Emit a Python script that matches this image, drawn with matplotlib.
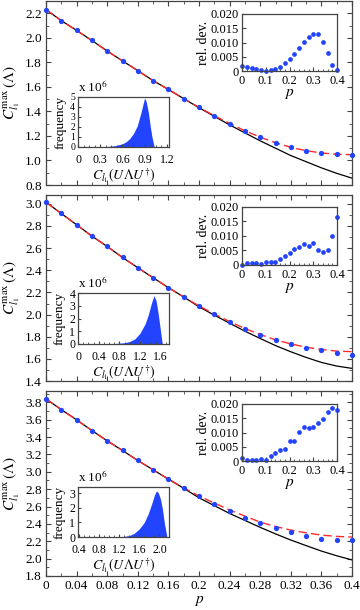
import numpy as np
import matplotlib
matplotlib.use("Agg")
import matplotlib.pyplot as plt
from matplotlib.ticker import MultipleLocator, FuncFormatter

plt.rcParams["font.family"] = ["Liberation Serif", "DejaVu Serif"]
plt.rcParams["mathtext.fontset"] = "stix"

# Daten
p = [0.0, 0.02, 0.04, 0.06, 0.08, 0.10, 0.12, 0.14, 0.16, 0.18, 0.20,
     0.22, 0.24, 0.26, 0.28, 0.30, 0.32, 0.34, 0.36, 0.38, 0.40]

dots1 = [2.23, 2.14, 2.06, 1.978, 1.892, 1.812, 1.732, 1.651, 1.579, 1.504, 1.433,
         1.365, 1.30, 1.24, 1.191, 1.143, 1.106, 1.08, 1.059, 1.05, 1.048]
red1 = [2.23, 2.14, 2.06, 1.978, 1.892, 1.812, 1.732, 1.651, 1.579, 1.504, 1.433,
        1.365, 1.302, 1.242, 1.19, 1.145, 1.107, 1.08, 1.061, 1.051, 1.047]
black1 = [2.23, 2.14, 2.06, 1.978, 1.892, 1.812, 1.732, 1.651, 1.579, 1.504, 1.43,
          1.36, 1.29, 1.225, 1.16, 1.10, 1.04, 0.99, 0.94, 0.895, 0.856]

dots2 = [3.015, 2.913, 2.811, 2.709, 2.615, 2.516, 2.423, 2.333, 2.243, 2.159, 2.078,
         2.003, 1.934, 1.871, 1.82, 1.769, 1.733, 1.70, 1.676, 1.652, 1.637]
red2 = [3.015, 2.913, 2.811, 2.709, 2.615, 2.516, 2.423, 2.333, 2.243, 2.159, 2.078,
        2.005, 1.937, 1.874, 1.82, 1.772, 1.735, 1.705, 1.685, 1.67, 1.665]
black2 = [3.015, 2.913, 2.811, 2.709, 2.615, 2.516, 2.423, 2.333, 2.243, 2.159, 2.07,
          1.995, 1.922, 1.85, 1.784, 1.72, 1.664, 1.613, 1.568, 1.535, 1.514]

dots3 = [3.839, 3.716, 3.598, 3.475, 3.356, 3.245, 3.13, 3.023, 2.915, 2.816, 2.716,
         2.632, 2.544, 2.471, 2.409, 2.352, 2.302, 2.264, 2.23, 2.214, 2.21]
red3 = [3.839, 3.716, 3.598, 3.475, 3.356, 3.245, 3.13, 3.023, 2.915, 2.816, 2.72,
        2.64, 2.56, 2.49, 2.42, 2.37, 2.329, 2.297, 2.271, 2.256, 2.248]
black3 = [3.839, 3.716, 3.598, 3.475, 3.356, 3.245, 3.13, 3.023, 2.915, 2.81, 2.70,
          2.61, 2.52, 2.44, 2.36, 2.285, 2.214, 2.15, 2.087, 2.033, 1.985]

reldev1 = [0.0019, 0.0014, 0.0009, 0.0006, 0.0002, 0.0001, 0.0002, 0.0007, 0.0015, 0.0027, 0.0041,
           0.006, 0.008, 0.0102, 0.0118, 0.0131, 0.0129, 0.0102, 0.0064, 0.0021, 0.0002]
reldev2 = [0.0001, 0.0008, 0.0008, 0.0007, 0.0002, 0.0009, 0.0009, 0.0009, 0.0022, 0.003, 0.0042,
           0.0056, 0.0063, 0.0072, 0.0067, 0.0076, 0.0052, 0.0045, 0.0053, 0.0101, 0.0164]
reldev3 = [0.0009, 0.0005, 0.0005, 0.0004, 0.0008, 0.0002, 0.0018, 0.0027, 0.004, 0.0041, 0.0069,
           0.0069, 0.0101, 0.012, 0.0115, 0.012, 0.0133, 0.0146, 0.0173, 0.0186, 0.0179]

hist1_x = [0.2, 0.3, 0.4, 0.5, 0.6, 0.65, 0.7, 0.75, 0.8, 0.85, 0.88, 0.9, 0.92, 0.95, 0.98, 1.0, 1.03, 1.1]
hist1_y = [0, 0.01, 0.05, 0.13, 0.32, 0.52, 0.85, 1.35, 2.1, 3.4, 4.3, 4.9, 4.6, 3.5, 1.9, 1.0, 0, 0]
hist2_x = [0.3, 0.5, 0.7, 0.9, 1.0, 1.1, 1.2, 1.3, 1.36, 1.42, 1.47, 1.51, 1.55, 1.59, 1.63, 1.7]
hist2_y = [0, 0.01, 0.03, 0.1, 0.2, 0.4, 0.85, 1.6, 2.3, 3.2, 3.8, 3.4, 2.4, 1.2, 0, 0]
hist3_x = [1.0, 1.2, 1.3, 1.4, 1.5, 1.6, 1.7, 1.78, 1.85, 1.9, 1.94, 1.98, 2.02, 2.06, 2.1, 2.15, 2.2]
hist3_y = [0, 0.01, 0.04, 0.1, 0.25, 0.55, 1.0, 1.6, 2.3, 2.85, 3.15, 3.0, 2.6, 1.9, 0.9, 0, 0]

panels = [
    dict(dots=dots1, red=red1, black=black1, ylim=(0.8, 2.3), reldev=reldev1,
         hx=hist1_x, hy=hist1_y, hxlim=(0, 1.23), hylim=(0, 5), hxt=0.3, hyfs=7,
         top=1, bot=185, ri_top=14, ri_bot=71, hi_top=97, hi_bot=147),
    dict(dots=dots2, red=red2, black=black2, ylim=(1.4, 3.08), reldev=reldev2,
         hx=hist2_x, hy=hist2_y, hxlim=(0, 1.76), hylim=(0, 4), hxt=0.4, hyfs=8.5,
         top=195, bot=381, ri_top=207, ri_bot=265, hi_top=293, hi_bot=344),
    dict(dots=dots3, red=red3, black=black3, ylim=(1.8, 3.93), reldev=reldev3,
         hx=hist3_x, hy=hist3_y, hxlim=(0.385, 2.19), hylim=(0, 3.41), hxt=0.4, hyfs=8.5,
         top=391, bot=576, ri_top=404, ri_bot=461, hi_top=487, hi_bot=537),
]

W, H = 360, 610
fig = plt.figure(figsize=(3.6, 6.1), dpi=100)

def box(l, t, r, b):
    return [l / W, 1 - b / H, (r - l) / W, (b - t) / H]

def fmt_g(v, pos):
    v = round(v, 3)
    if v == 0:
        return "0"
    return f"{v:g}"

frame = "#444444"
blue = "#2244ff"

for i, pn in enumerate(panels):
    ax = fig.add_axes(box(46, pn["top"], 352, pn["bot"]))
    ax.plot(p, pn["black"], color="black", lw=0.9, zorder=2)
    ax.plot(p, pn["red"], color="#ff2a2a", lw=1.0, ls=(0, (6, 3)), zorder=3)
    ax.plot(p, pn["dots"], "o", color=blue, ms=3.8, mec="none", zorder=4, clip_on=False)
    ax.set_xlim(0, 0.4)
    ax.set_ylim(*pn["ylim"])
    ax.xaxis.set_major_locator(MultipleLocator(0.04))
    ax.xaxis.set_minor_locator(MultipleLocator(0.02))
    ax.yaxis.set_major_locator(MultipleLocator(0.2))
    ax.yaxis.set_minor_locator(MultipleLocator(0.1))
    ax.yaxis.set_major_formatter(FuncFormatter(lambda v, pos: f"{v:.1f}"))
    ax.xaxis.set_major_formatter(FuncFormatter(fmt_g))
    ax.tick_params(which="both", direction="in", top=True, right=True, labelsize=9.5,
                   color=frame, pad=3)
    ax.tick_params(which="major", length=3.5)
    ax.tick_params(which="minor", length=2.5)
    for s in ax.spines.values():
        s.set_color(frame)
        s.set_linewidth(0.9)
    ax.set_ylabel(r"$C^{\max}_{l_1}\,(\Lambda)$", fontsize=11, labelpad=2)
    if i < 2:
        ax.tick_params(labelbottom=False)
    else:
        ax.set_xlabel(r"$p$", fontsize=11, labelpad=1)

    # rel. dev. inset
    ri = fig.add_axes(box(242, pn["ri_top"], 337, pn["ri_bot"]))
    ri.plot(p, pn["reldev"], "o", color=blue, ms=3.4, mec="none", clip_on=False)
    ri.set_xlim(0, 0.4)
    ri.set_ylim(0, 0.02)
    ri.xaxis.set_major_locator(MultipleLocator(0.1))
    ri.xaxis.set_minor_locator(MultipleLocator(0.02))
    ri.yaxis.set_major_locator(MultipleLocator(0.005))
    ri.yaxis.set_major_formatter(FuncFormatter(lambda v, pos: "0" if abs(v) < 1e-9 else f"{v:.3f}"))
    ri.xaxis.set_major_formatter(FuncFormatter(fmt_g))
    ri.tick_params(which="both", direction="in", labelsize=9, color=frame, pad=2)
    ri.tick_params(axis="x", pad=3)
    ri.tick_params(which="major", length=3)
    ri.tick_params(which="minor", length=1.5)
    for s in ri.spines.values():
        s.set_color(frame)
        s.set_linewidth(0.9)
    ri.set_ylabel("rel. dev.", fontsize=10, labelpad=1)
    ri.set_xlabel(r"$p$", fontsize=11, labelpad=0)

    # histogram inset
    hi = fig.add_axes(box(78, pn["hi_top"], 169, pn["hi_bot"]))
    hi.fill_between(pn["hx"], pn["hy"], 0, color=blue, lw=0)
    hi.set_xlim(*pn["hxlim"])
    hi.set_ylim(*pn["hylim"])
    hi.xaxis.set_major_locator(MultipleLocator(pn["hxt"]))
    hi.xaxis.set_minor_locator(MultipleLocator(pn["hxt"] / 4))
    hi.yaxis.set_major_locator(MultipleLocator(1))
    hi.xaxis.set_major_formatter(FuncFormatter(lambda v, pos: "0" if abs(v) < 1e-9 else f"{v:.1f}"))
    hi.tick_params(which="both", direction="in", labelsize=8.5, color=frame, pad=2)
    hi.tick_params(axis="y", labelsize=pn["hyfs"])
    hi.tick_params(axis="x", pad=5)
    hi.tick_params(which="major", length=2.5)
    hi.tick_params(which="minor", length=1.5)
    for s in hi.spines.values():
        s.set_color(frame)
        s.set_linewidth(0.9)
    hi.set_ylabel("frequency", fontsize=9.5, labelpad=3)
    hi.set_xlabel(r"$C_{l_1}(U\Lambda U^{\dagger})$", fontsize=10, labelpad=0)
    hi.text(0.0, 1.04, r"x 10$^6$", transform=hi.transAxes, fontsize=9.5,
            ha="left", va="bottom")

fig.savefig("out.png", dpi=100)
